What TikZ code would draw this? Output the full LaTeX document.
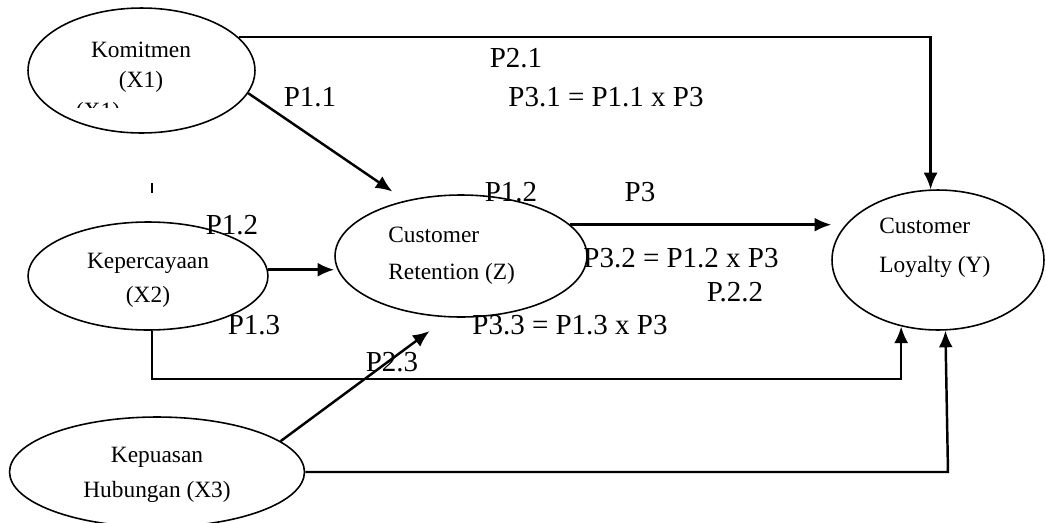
\documentclass[tikz,border=0pt]{standalone}
\usepackage{fontspec}
\setmainfont{Liberation Serif}
\usetikzlibrary{shapes.geometric,arrows.meta}
\newcommand{\varfont}[1]{\fontsize{13.3}{#1}\selectfont}

\begin{document}
\begin{tikzpicture}[x=0.02cm, y=-0.02cm, >={Latex[length=9.5pt,width=8pt]}]
    \tikzstyle{var}=[ellipse, draw, line width=0.9pt, inner sep=0pt]
    \tikzstyle{vtext}=[inner sep=0pt]
    \tikzstyle{coef}=[inner sep=0pt, font=\fontsize{16.5}{20}\selectfont]
    \tikzstyle{link}=[->, line width=1.4pt]

    \useasboundingbox (0,0) rectangle (1046,522);

    \node[var, minimum width=4.54cm, minimum height=2.5cm] (kom) at (141.5,70.5) {};
    \node[var, minimum width=4.8cm, minimum height=2.16cm] (kep) at (148,276) {};
    \node[var, minimum width=5.04cm, minimum height=2.44cm] (ret) at (461,256) {};
    \node[var, minimum width=4.24cm, minimum height=2.8cm] (loy) at (938,260) {};
    \node[var, minimum width=5.9cm, minimum height=2.2cm] (kpu) at (157,472) {};

    \node[vtext, align=center, font=\varfont{17}] (komtxt) at (141,67) {Komitmen\\(X1)};
    \begin{scope}
        \clip (60,95) rectangle (130,107);
        \node[vtext, font=\varfont{17}] (komdup) at (98,113) {(X1)};
    \end{scope}
    \node[vtext, align=center, font=\varfont{19.4}] (keptxt) at (148,280) {Kepercayaan\\(X2)};
    \node[vtext, align=left, font=\varfont{21}, anchor=west] (rettxt) at (388,256) {Customer\\Retention (Z)};
    \node[vtext, align=left, font=\varfont{22.2}, anchor=west] (loytxt) at (879,248) {Customer\\Loyalty (Y)};
    \node[vtext, align=center, font=\varfont{20}] (kputxt) at (157,475) {Kepuasan\\Hubungan (X3)};

    \node[coef] (p21) at (516,58) {P2.1};
    \node[coef] (p11) at (310,97) {P1.1};
    \node[coef] (p31) at (606,97) {P3.1 = P1.1 x P3};
    \node[coef] (p12a) at (232,225) {P1.2};
    \node[coef] (p12b) at (511,192) {P1.2};
    \node[coef] (p3) at (640,192) {P3};
    \node[coef] (p32) at (681,258) {P3.2 = P1.2 x P3};
    \node[coef] (p22) at (735,292) {P.2.2};
    \node[coef] (p13) at (254,325) {P1.3};
    \node[coef] (p33) at (570,325) {P3.3 = P1.3 x P3};
    \node[coef] (p23) at (392,362) {P2.3};

    \coordinate (kpuknee) at (948,472);

    \draw[line width=0.9pt] (152,183) -- (152,193);

    \draw[link] (kom.19) -| (loy.96);
    \draw[link, shorten >=9pt] (kom.-12) -- (ret.135);
    \draw[link] (kep.3) -- (kep.3 -| ret.west);
    \draw[link] (ret.16) -- (ret.16 -| loy.west);
    \draw[link] (kep.-86) -- ++(0,48) -| (loy.-119);
    \draw[link, shorten >=13pt] (kpu.14) -- (ret.-102);
    \draw[link] (kpu.east) -- (kpuknee) -- (loy.-84);
\end{tikzpicture}
\end{document}
